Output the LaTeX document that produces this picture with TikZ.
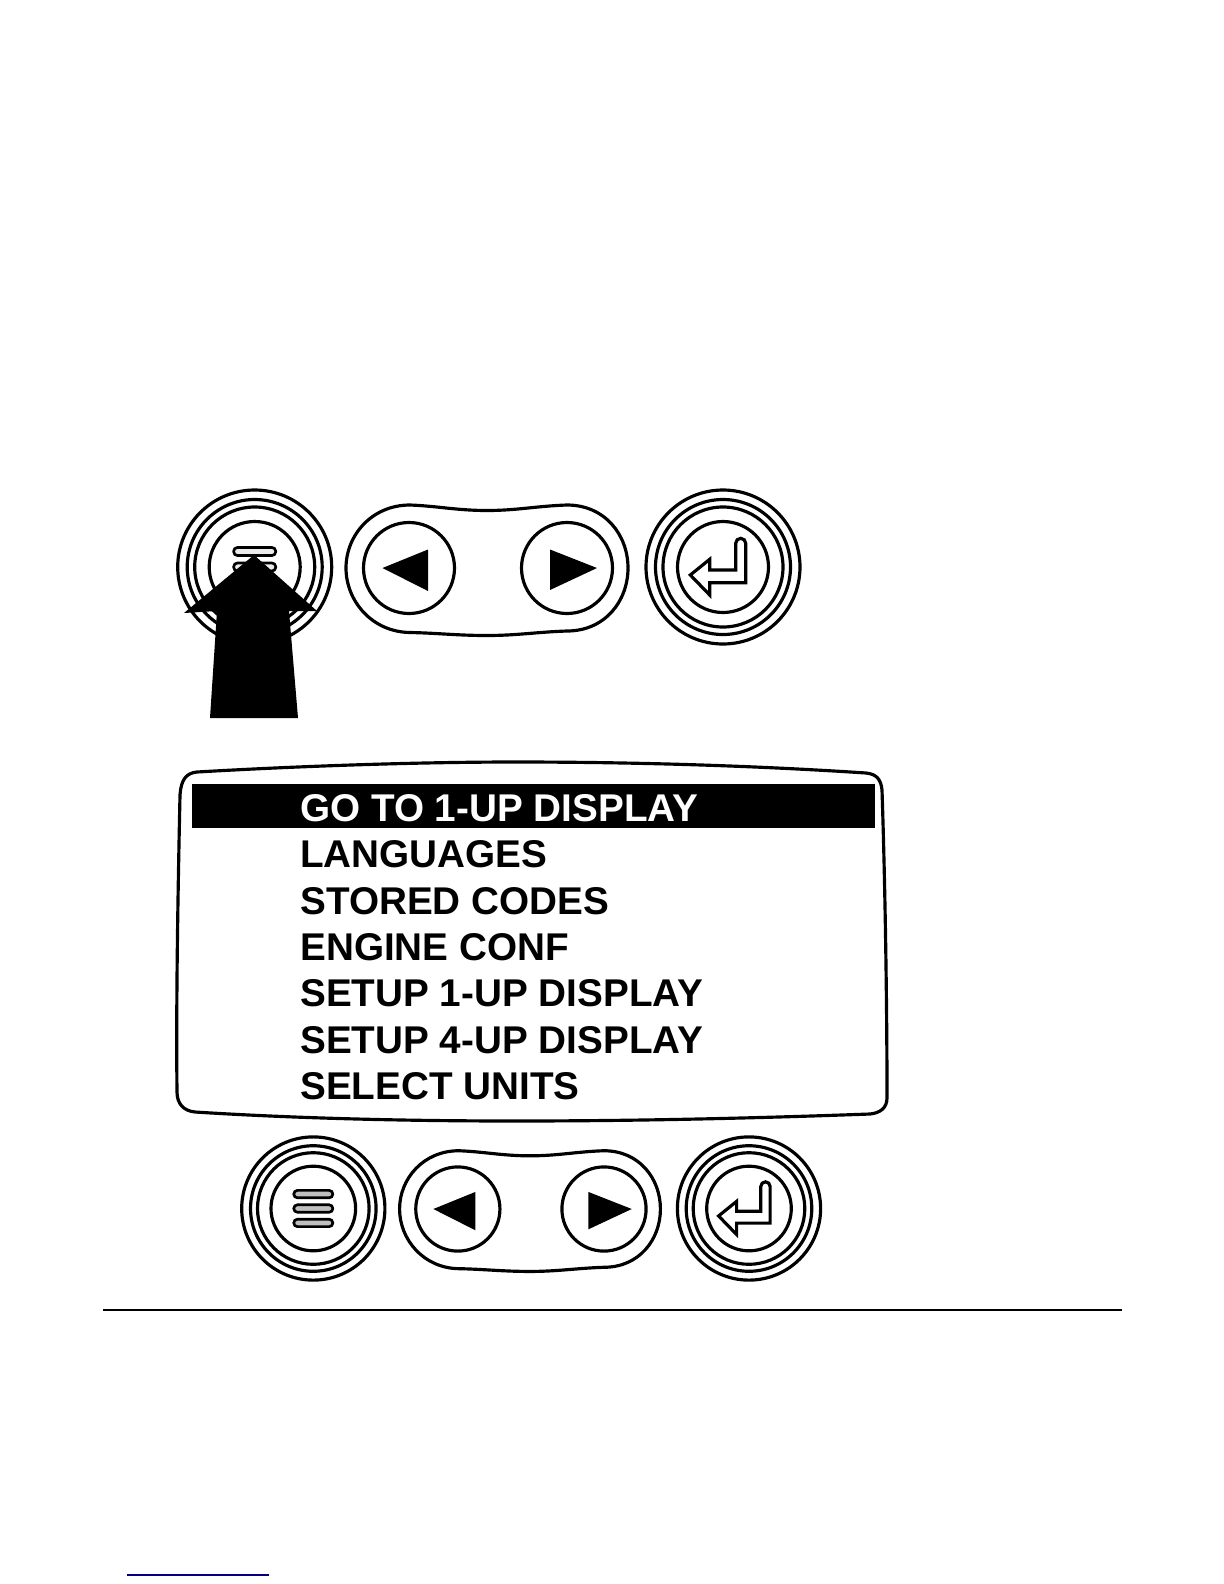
\documentclass[tikz,border=0pt]{standalone}
\usepackage{fontspec}
\setmainfont{Liberation Sans}
\usetikzlibrary{positioning}
\tikzset{
  outline/.style={line width=1.9pt,black},
  rowtext/.style={anchor=base west,inner sep=0pt,font=\fontsize{23.2}{30}\selectfont\bfseries},
}
% three rings and the inner circle of a round key
\newcommand{\keyrings}{
  \draw[outline] (0,0) circle (77);
  \draw[outline] (0,0) circle (67.5);
  \draw[outline] (0,0) circle (60);
  \draw[outline] (0,0) circle (45.5);
}
% the three bars of the menu key
\newcommand{\menubars}[1]{
  \foreach \barY in {-15.5,0,15.5}
    \draw[line width=1.6pt,fill=#1,rounded corners=2.2pt] (-21,\barY-4) rectangle (21,\barY+4);
}
% the return sign of the enter key
\newcommand{\entersign}{
  \draw[outline,line join=miter] (-13.3,3) -- (12.7,3) -- (12.7,-23.7) arc[start angle=180,end angle=360,radius=5] -- (22.7,15.7)
    -- (-13.3,15.7) -- (-13.3,28) -- (-32.7,8) -- (-13.3,-7.7) -- cycle;
}
% the pill with the two arrow keys
\newcommand{\arrowpill}{
  \draw[outline] (-77,-63) .. controls (-50,-62) and (-30,-57.5) .. (0,-57.5) .. controls (30,-57.5) and (50,-62) .. (80,-63)
    .. controls (118,-63) and (141,-33) .. (141,0) .. controls (141,33) and (118,63) .. (80,63)
    .. controls (50,64) and (30,67.5) .. (0,67.5) .. controls (-30,67.5) and (-50,65) .. (-77,64.5)
    .. controls (-115,64) and (-141,33) .. (-141,0) .. controls (-141,-33) and (-115,-63) .. (-77,-63) -- cycle;
  \draw[outline] (-78,0) circle (45.5);
  \draw[outline] (80,0) circle (45.5);
  \fill (-104.5,0) -- (-59,-18.5) -- (-59,23) -- cycle;
  \fill (63,-18.5) -- (63,22) -- (110,0) -- cycle;
}

\begin{document}
\begin{tikzpicture}[x=0.6pt,y=-0.6pt]
\useasboundingbox (0,0) rectangle (1224,1584);

% upper row of keys
\begin{scope}[shift={(254.7,567)}]
  \keyrings
  \menubars{black!8}
\end{scope}
\begin{scope}[shift={(487,568)}]
  \arrowpill
\end{scope}
\begin{scope}[shift={(723,567)}]
  \keyrings
  \entersign
\end{scope}

% big arrow over the menu key
\fill (254,555) -- (317,611) -- (289,611) -- (298,718) -- (210,718) -- (217,611) -- (184,613) -- cycle;

% display
\draw[outline] (180,795) .. controls (181,780) and (186,773) .. (197,772)
  .. controls (300,766) and (420,762) .. (515,762)
  .. controls (640,762) and (760,766) .. (866,773)
  .. controls (877,774) and (881,780) .. (882,790)
  .. controls (885,880) and (887,1000) .. (887,1098)
  .. controls (887,1108) and (880,1113) .. (870,1114)
  .. controls (760,1118) and (640,1121) .. (515,1121)
  .. controls (400,1121) and (290,1118) .. (195,1112)
  .. controls (184,1111) and (177,1104) .. (177,1092)
  .. controls (176,1000) and (178,890) .. (180,795) -- cycle;
\fill (192,784) rectangle (875,828);

% menu rows
\node[rowtext,white] (item1) at (300,821) {GO TO 1-UP DISPLAY};
\foreach \i/\rowY/\rowText in {2/867.5/LANGUAGES,3/914/STORED CODES,4/960/ENGINE CONF,5/1006.5/SETUP 1-UP DISPLAY,6/1053/SETUP 4-UP DISPLAY,7/1099.5/SELECT UNITS}
  \node[rowtext] (item\i) at (300,\rowY) {\rowText};

% lower row of keys
\begin{scope}[shift={(313.3,1208.5)},scale=0.93]
  \keyrings
  \menubars{black!25}
\end{scope}
\begin{scope}[shift={(530,1209)},scale=0.925]
  \arrowpill
\end{scope}
\begin{scope}[shift={(749,1208.5)},scale=0.93]
  \keyrings
  \entersign
\end{scope}

% rule and link line at the foot of the page
\draw[line width=1.5pt] (103,1310) -- (1122,1310);
\draw[line width=0.8pt,blue!50!black] (126.7,1575) -- (269,1575);
\end{tikzpicture}
\end{document}
